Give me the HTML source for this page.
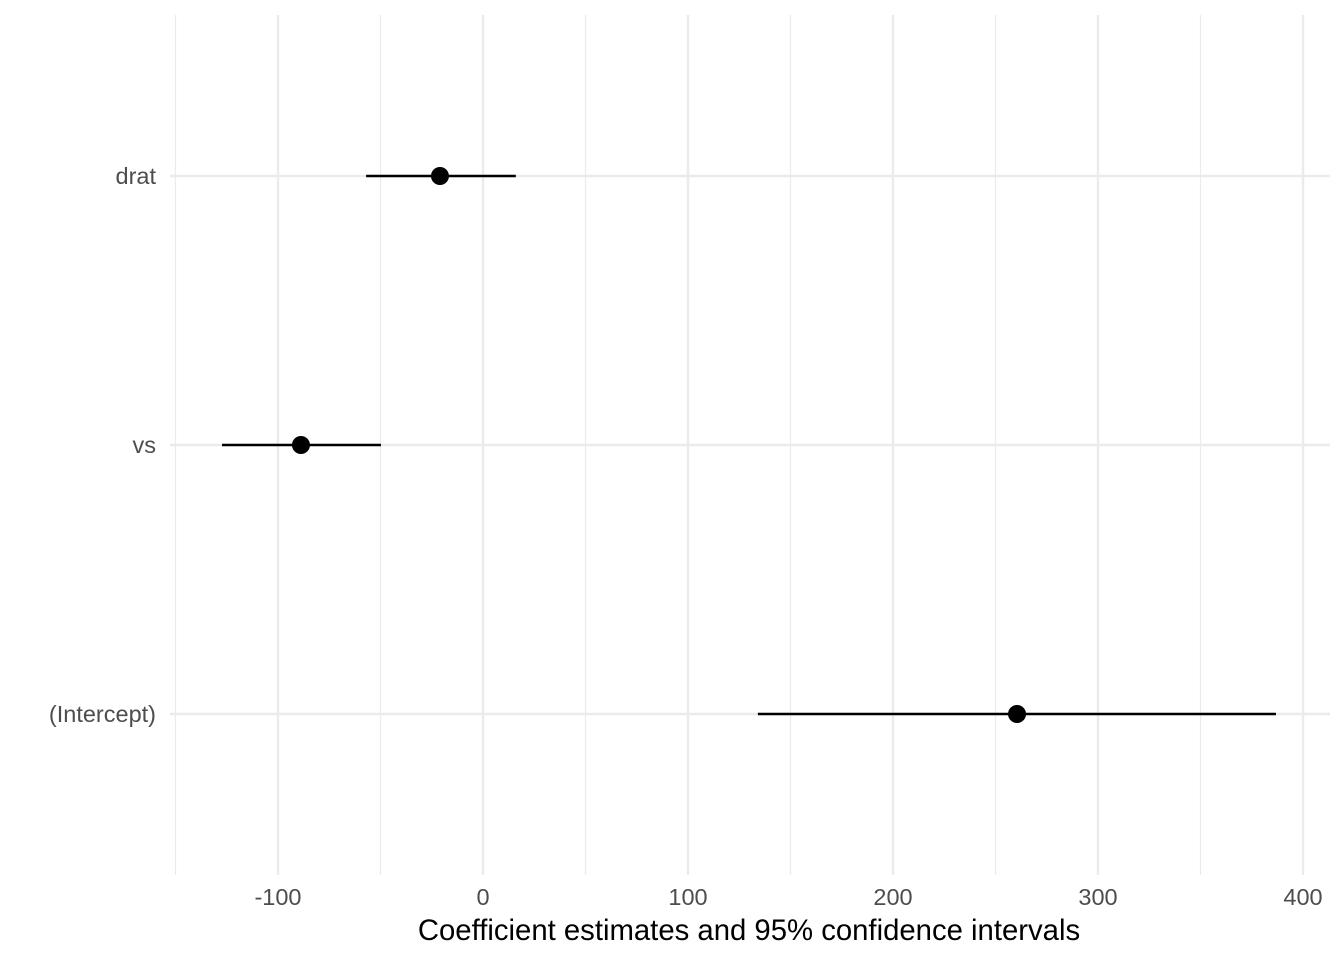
<!DOCTYPE html>
<html><head><meta charset="utf-8"><style>
html,body{margin:0;padding:0;background:#fff;}
svg{display:block;font-family:"Liberation Sans",Arial,sans-serif;}
</style></head><body>
<svg id="chart" width="1344" height="960" viewBox="0 0 1344 960"></svg>
<script>
const terms = ["drat", "vs", "(Intercept)"];
const estimates = [-21, -88.8, 260.5];
const lowers = [-57, -127.3, 134.1];
const uppers = [16, -49.8, 386.8];
const xTicks = [-100, 0, 100, 200, 300, 400];
const xMinor = [-150, -50, 50, 150, 250, 350];

const svgEl = document.getElementById('chart');
const NS = 'http://www.w3.org/2000/svg';
const panelLeft = 170, panelRight = 1330, panelTop = 15, panelBottom = 875;
function xs(v){ return 483 + (v) * 2.05; }
function ys(i){ return 176 + i * 269; }
function mk(tag, attrs, parent){
  const e = document.createElementNS(NS, tag);
  for (const k in attrs) e.setAttribute(k, attrs[k]);
  (parent || svgEl).appendChild(e);
  return e;
}
const grid = mk('g', {});


xMinor.forEach(v => {
  const l = mk('line', {x1: xs(v), x2: xs(v), y1: panelTop, y2: panelBottom, stroke: '#ebebeb', 'stroke-width': 1.2}, grid);
  
  
});
xTicks.forEach(v => {
  const l = mk('line', {x1: xs(v), x2: xs(v), y1: panelTop, y2: panelBottom, stroke: '#ebebeb', 'stroke-width': 2.4}, grid);
  
  
});
terms.forEach((t, i) => {
  const l = mk('line', {x1: panelLeft, x2: panelRight, y1: ys(i), y2: ys(i), stroke: '#ebebeb', 'stroke-width': 2.4}, grid);
  
  
});
xTicks.forEach(v => {
  const tx = mk('text', {x: xs(v), y: 905, 'text-anchor': 'middle', 'font-size': 23.5, fill: '#4d4d4d'});
  tx.textContent = v;
  
  
});
terms.forEach((t, i) => {
  const tx = mk('text', {x: 156, y: ys(i) + 8, 'text-anchor': 'end', 'font-size': 23.5, fill: '#4d4d4d'});
  tx.textContent = t;
  
  
});
terms.forEach((t, i) => {
  const l = mk('line', {x1: xs(lowers[i]), x2: xs(uppers[i]), y1: ys(i), y2: ys(i), stroke: '#000', 'stroke-width': 2.5});
  
  
  const c = mk('circle', {cx: xs(estimates[i]), cy: ys(i), r: 9, fill: '#000'});
  
  
});
const title = mk('text', {x: 749, y: 940, 'text-anchor': 'middle', 'font-size': 29.3, fill: '#000'});
title.textContent = 'Coefficient estimates and 95% confidence intervals';


</script>
</body></html>
